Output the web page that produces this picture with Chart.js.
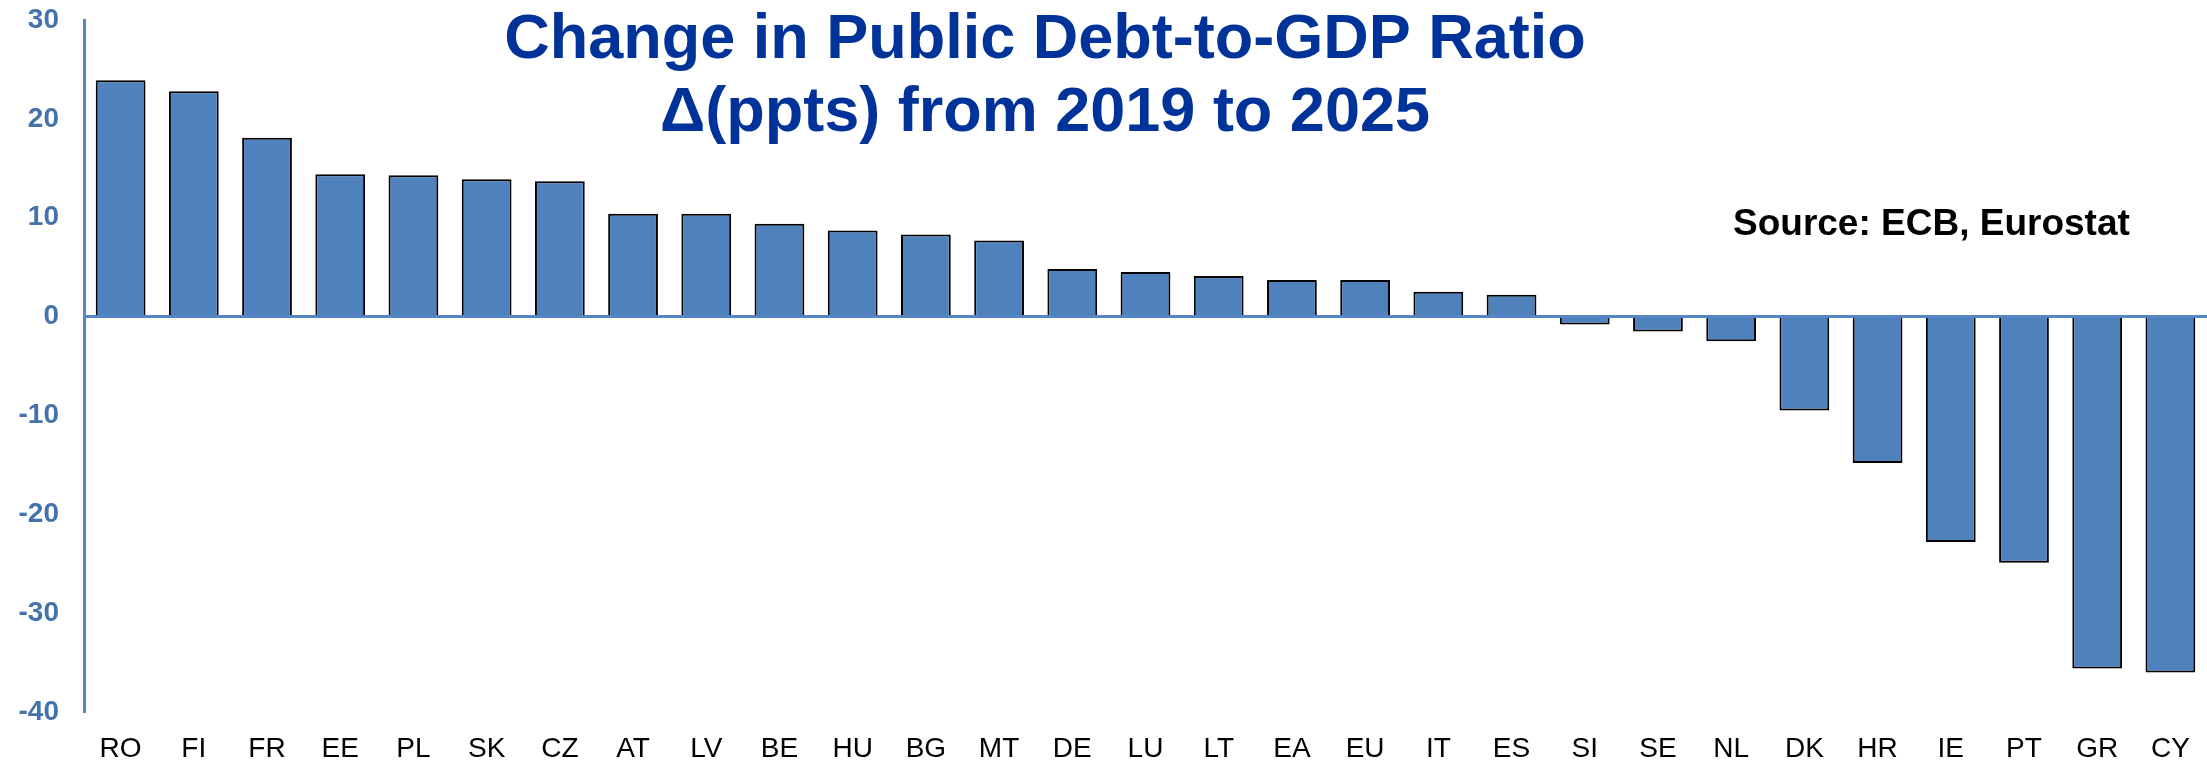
<!DOCTYPE html>
<html>
<head>
<meta charset="utf-8">
<title>Change in Public Debt-to-GDP Ratio</title>
<script src="https://cdn.jsdelivr.net/npm/chart.js@4"></script>
<style>
  html, body { margin: 0; padding: 0; background: #ffffff; }
  #wrap { width: 2207px; height: 762px; }
</style>
</head>
<body>
<div id="wrap"><canvas id="debtChart" width="2207" height="762"></canvas></div>
<script>
// Countries / aggregates, ordered from largest increase to largest decrease
const categories = ['RO','FI','FR','EE','PL','SK','CZ','AT','LV','BE','HU','BG','MT','DE','LU',
                    'LT','EA','EU','IT','ES','SI','SE','NL','DK','HR','IE','PT','GR','CY'];

// Change in debt-to-GDP ratio, percentage points, 2019 -> 2025
const changePpts = [23.9, 22.8, 18.1, 14.4, 14.3, 13.9, 13.7, 10.4, 10.4, 9.4, 8.7, 8.3, 7.7, 4.8, 4.5,
                    4.1, 3.7, 3.7, 2.5, 2.2, -0.8, -1.5, -2.5, -9.5, -14.8, -22.8, -24.9, -35.6, -36.0];

// Value axis ticks
const yTicks = [30, 20, 10, 0, -10, -20, -30, -40];

const titleLines = ['Change in Public Debt-to-GDP Ratio', 'Δ(ppts) from 2019 to 2025'];
const sourceNote = 'Source: ECB, Eurostat';

const FONT = "'Liberation Sans', Arial, Helvetica, sans-serif";
const BAR_BLUE = '#4f81bd';
const AXIS_BLUE = '#5585c2';
const TICK_BLUE = '#4472ad';
const TITLE_BLUE = '#003399';

// Zero line drawn on top of the bars, like the category axis in the original layout
const zeroLinePlugin = {
  id: 'zeroLine',
  afterDatasetsDraw(chart) {
    const { ctx, chartArea, scales } = chart;
    const y = scales.y.getPixelForValue(0);
    ctx.save();
    ctx.strokeStyle = AXIS_BLUE;
    ctx.lineWidth = 3;
    ctx.beginPath();
    ctx.moveTo(chartArea.left, y);
    ctx.lineTo(chart.width, y);
    ctx.stroke();
    ctx.restore();
  }
};

// Two-line heading and source note overlaid on the plot
const headingPlugin = {
  id: 'heading',
  afterDraw(chart) {
    const { ctx } = chart;
    ctx.save();
    ctx.fillStyle = TITLE_BLUE;
    ctx.font = `bold 63px ${FONT}`;
    ctx.textAlign = 'center';
    ctx.textBaseline = 'alphabetic';
    ctx.fillText(titleLines[0], 1045, 58);
    ctx.fillText(titleLines[1], 1045, 131);

    ctx.fillStyle = '#000000';
    ctx.font = `bold 37px ${FONT}`;
    ctx.textAlign = 'left';
    ctx.fillText(sourceNote, 1733, 235);
    ctx.restore();
  }
};

new Chart(document.getElementById('debtChart'), {
  type: 'bar',
  data: {
    labels: categories,
    datasets: [{
      data: changePpts,
      backgroundColor: BAR_BLUE,
      borderColor: '#000000',
      borderWidth: 2,
      barPercentage: 0.68,
      categoryPercentage: 1.0
    }]
  },
  options: {
    responsive: false,
    devicePixelRatio: 1,
    animation: false,
    layout: { padding: { top: 20, right: 0, bottom: 0, left: 0 } },
    plugins: {
      legend: { display: false },
      tooltip: { enabled: false },
      title: { display: false }
    },
    scales: {
      x: {
        grid: { display: false, drawTicks: false },
        border: { display: false },
        ticks: {
          color: '#000000',
          font: { family: FONT, size: 28 },
          padding: 20,
          maxRotation: 0,
          autoSkip: false
        },
        afterFit(scale) {
          scale.height = 50;
          scale.paddingLeft = 0;
          scale.paddingRight = 0;
        }
      },
      y: {
        min: -40,
        max: 30,
        grid: { display: false, drawTicks: false },
        border: { display: true, color: AXIS_BLUE, width: 3 },
        afterBuildTicks(scale) { scale.ticks = yTicks.map(v => ({ value: v })); },
        ticks: {
          color: TICK_BLUE,
          font: { family: FONT, size: 28, weight: 'bold' },
          padding: 25
        },
        afterFit(scale) {
          scale.width = 84;
          scale.paddingTop = 0;
          scale.paddingBottom = 0;
        }
      }
    }
  },
  plugins: [zeroLinePlugin, headingPlugin]
});
</script>
</body>
</html>
